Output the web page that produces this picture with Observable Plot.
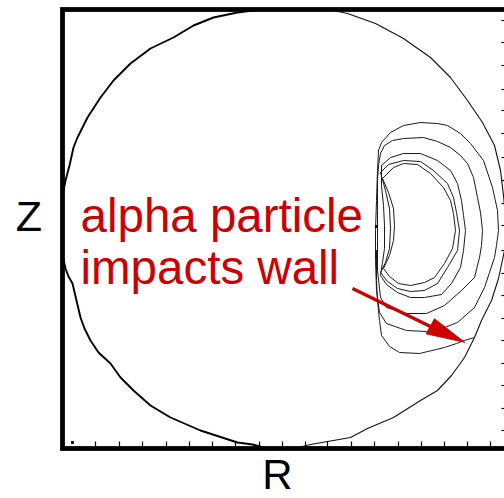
<!DOCTYPE html>
<html>
<head>
<meta charset="utf-8">
<script src="https://cdn.jsdelivr.net/npm/d3@7"></script>
<script src="https://cdn.jsdelivr.net/npm/@observablehq/plot@0.6"></script>
<style>
html, body { margin: 0; padding: 0; background: #fff; overflow: hidden; }
</style>
</head>
<body>
<div id="chart"></div>
<script>
// ---- Wall (vessel boundary), outer/right half and inner/left half ----
const wallRightR = [221, 248, 271, 285, 313, 341, 368, 388, 405, 420, 432, 438, 441, 444, 442, 436, 429, 419, 412, 402, 389, 375, 358, 331, 305, 288, 265, 248, 236, 221];
const wallRightZ = [440, 439, 438, 435, 425, 410, 391, 371, 348, 326, 303, 278, 253, 223, 198, 170, 148, 128, 111, 91, 73, 58, 48, 31, 20, 11, 7, 4, 1, -3];
const wallLeftR = [221, 201, 190, 175, 138, 108, 88, 71, 58, 48, 36, 28, 22, 18, 14, 10, 6, 3, 0, -1, 0, 3, 7, 11, 15, 25, 38, 51, 68, 88, 111, 131, 151, 175, 198, 221];
const wallLeftZ = [-3, 1, 4, 6, 18, 31, 43, 58, 71, 85, 96, 108, 120, 131, 148, 165, 172, 180, 193, 223, 253, 268, 283, 301, 311, 331, 351, 368, 385, 400, 411, 423, 431, 436, 439, 440];

// ---- Alpha particle orbit loops (innermost to outermost) ----
const loop1R = [320, 331, 341, 355, 368, 381, 388, 391, 393, 390, 382, 372, 362, 348, 336, 327, 321, 327, 331, 332, 331, 326, 320];
const loop1Z = [270, 281, 285, 284, 275, 261, 248, 235, 218, 200, 185, 171, 166, 163, 165, 172, 180, 193, 208, 223, 240, 256, 270];
const loop2R = [318, 326, 341, 358, 371, 385, 391, 394, 397, 395, 385, 375, 362, 348, 335, 325, 318, 323, 327, 328, 327, 323, 318];
const loop2Z = [276, 284, 288, 287, 278, 265, 251, 236, 218, 198, 181, 165, 158, 157, 160, 167, 176, 186, 200, 220, 240, 258, 276];
const loop3R = [319, 328, 341, 358, 375, 388, 395, 399, 401, 403, 401, 398, 389, 379, 362, 348, 335, 324, 318, 320, 322, 322, 321, 319, 319];
const loop3Z = [283, 291, 295, 295, 288, 278, 265, 248, 233, 218, 198, 181, 165, 154, 151, 151, 156, 164, 173, 186, 200, 223, 243, 263, 283];
const loop4R = [318, 322, 330, 341, 361, 375, 388, 398, 405, 411, 415, 418, 420, 419, 417, 412, 399, 382, 364, 344, 324, 318, 315, 315, 315, 315, 316, 318];
const loop4Z = [295, 303, 308, 310, 311, 307, 301, 293, 285, 271, 251, 236, 218, 203, 191, 171, 158, 143, 135, 135, 141, 151, 178, 208, 238, 268, 283, 295];
const loop5R = [316, 319, 328, 341, 358, 375, 385, 398, 408, 421, 430, 435, 436, 434, 432, 427, 422, 412, 395, 382, 364, 344, 324, 317, 314, 313, 313, 314, 315, 316];
const loop5Z = [298, 306, 316, 323, 326, 325, 323, 315, 305, 288, 261, 238, 218, 203, 191, 176, 161, 141, 126, 121, 117, 118, 125, 136, 158, 188, 218, 248, 278, 298];
// final (lost) leg of the orbit, ending on the wall
const lostR = [314, 314, 315, 317, 319, 327, 337, 357, 382, 394, 402, 412];
const lostZ = [198, 168, 148, 128, 113, 102, 96, 95, 101, 105, 108, 111];

// small markers
const markR = [10, 314];
const markZ = [6, 222];

// ---- Tick positions ----
const rTicks = [33, 57, 80, 104, 127, 150, 173, 197, 220, 243, 265, 289, 312, 336, 359, 382, 405, 428];
const zTicks = [18, 40, 63, 85, 108, 130, 153, 175, 198, 223, 245, 268, 291, 315, 338, 359, 383, 406, 428];

// ---- Annotation ----
const annotationText = ["alpha particle\nimpacts wall"];
const annotationR = [18];
const annotationZ = [165];
const arrowShaftR = [290, 370];
const arrowShaftZ = [160, 121];
const arrowHeadR = [402, 372, 363.7, 402];
const arrowHeadZ = [106.3, 129.7, 114.7, 106.3];

// ---- Build tables ----
const pts = (R, Z, id) => R.map((r, i) => ({R: r, Z: Z[i], id}));
const wallRight = pts(wallRightR, wallRightZ, "wr");
const wallLeft = pts(wallLeftR, wallLeftZ, "wl");
const loops = [
  ...pts(loop1R, loop1Z, 1),
  ...pts(loop2R, loop2Z, 2),
  ...pts(loop3R, loop3Z, 3),
  ...pts(loop4R, loop4Z, 4),
  ...pts(loop5R, loop5Z, 5),
  ...pts(lostR, lostZ, 6)
];
const marks = pts(markR, markZ, "m");
const shaft = [{R1: arrowShaftR[0], Z1: arrowShaftZ[0], R2: arrowShaftR[1], Z2: arrowShaftZ[1]}];
const head = pts(arrowHeadR, arrowHeadZ, "h");
const annotation = annotationText.map((t, i) => ({t, R: annotationR[i], Z: annotationZ[i]}));

const red = "#cc0000";
const font = "'Liberation Sans', Arial, Helvetica, sans-serif";

const chart = Plot.plot({
  width: 504,
  height: 498,
  marginLeft: 62,
  marginRight: 0,
  marginTop: 9,
  marginBottom: 50,
  x: {domain: [0, 442], axis: null},
  y: {domain: [0, 439], axis: null},
  style: {fontFamily: font, background: "#fff", color: "#000"},
  marks: [
    Plot.line(wallRight, {x: "R", y: "Z", stroke: "#111", strokeWidth: 1.1, clip: true}),
    Plot.line(wallLeft, {x: "R", y: "Z", stroke: "#000", strokeWidth: 1.9, clip: true}),
    Plot.line(loops, {x: "R", y: "Z", z: "id", stroke: "#1a1a1a", strokeWidth: 1, clip: true}),
    Plot.dot(marks, {x: "R", y: "Z", symbol: "square", r: 1.6, fill: "#000", stroke: null}),
    Plot.frame({stroke: "#000", strokeWidth: 4.8, insetRight: -5}),
    Plot.ruleX(rTicks, {x: d => d, y1: 0, y2: 6.5, stroke: "#000", strokeWidth: 1.2}),
    Plot.ruleY(zTicks, {y: d => d, x1: 439.5, x2: 446, stroke: "#000", strokeWidth: 1.2}),
    Plot.link(shaft, {x1: "R1", y1: "Z1", x2: "R2", y2: "Z2", stroke: red, strokeWidth: 3.3}),
    Plot.line(head, {x: "R", y: "Z", fill: red, stroke: red, strokeWidth: 1}),
    Plot.text(annotation, {x: "R", y: "Z", text: "t", fill: red, fontSize: 47.5, textAnchor: "start", lineAnchor: "bottom", lineHeight: 1.075}),
    Plot.text(["Z"], {frameAnchor: "left", dx: -33.5, dy: 1.5, textAnchor: "middle", lineAnchor: "bottom", fontSize: 43, fill: "#000"}),
    Plot.text(["R"], {frameAnchor: "bottom", dx: -6, dy: 40.5, textAnchor: "middle", lineAnchor: "bottom", fontSize: 42, fill: "#000"})
  ]
});
document.getElementById("chart").appendChild(chart);
</script>
</body>
</html>
